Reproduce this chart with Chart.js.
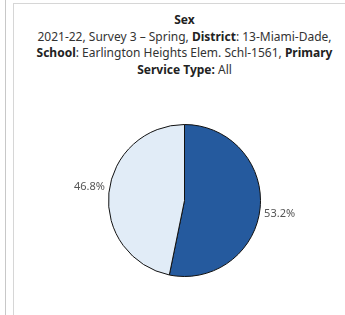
<!DOCTYPE html>
<html>
<head>
<meta charset="utf-8">
<script src="https://cdn.jsdelivr.net/npm/chart.js@4.4.1/dist/chart.umd.min.js"></script>
<style>
  html, body { margin: 0; padding: 0; background: #fff; }
  body { width: 345px; height: 315px; position: relative; overflow: hidden; font-family: "Noto Sans", sans-serif; }
  .vline1 { position: absolute; left: 5px; top: 0; width: 1px; height: 315px; background: #c8c8c8; }
  .vline2 { position: absolute; left: 13px; top: 3px; width: 1px; height: 312px; background: #d6d6d6; }
  .hline { position: absolute; left: 13px; top: 3px; width: 332px; height: 1px; background: #d6d6d6; }
  #title { position: absolute; left: 24px; width: 321px; top: 12px; text-align: center; font-size: 12px; line-height: 16.5px; color: #333; white-space: nowrap; }
  #title b { color: #222; }
  #wrap { position: absolute; left: 24px; top: 124px; width: 321px; height: 153px; }
</style>
</head>
<body>
<div class="vline1"></div>
<div class="vline2"></div>
<div class="hline"></div>
<div id="title"><b>Sex</b><br>2021-22, Survey 3 – Spring, <b>District</b>: 13-Miami-Dade,<br><b>School</b>: Earlington Heights Elem. Schl-1561, <b>Primary</b><br><b>Service Type:</b> All</div>
<div id="wrap"><canvas id="c"></canvas></div>
<script>
const categories = ["Male", "Female"];
const values = [53.2, 46.8];
const valueLabels = ["53.2%", "46.8%"];
const colors = ["#255a9e", "#e1ecf7"];

const labelPlugin = {
  id: 'sliceLabels',
  afterDatasetsDraw(chart) {
    const ctx = chart.ctx;
    const meta = chart.getDatasetMeta(0);
    ctx.save();
    ctx.font = '11px "Noto Sans", sans-serif';
    ctx.fillStyle = '#555';
    meta.data.forEach((arc, i) => {
      const mid = (arc.startAngle + arc.endAngle) / 2;
      const r = arc.outerRadius + 4;
      const x = arc.x + Math.cos(mid) * r;
      const y = arc.y + Math.sin(mid) * r;
      if (Math.cos(mid) >= 0) {
        ctx.textAlign = 'left';
        ctx.textBaseline = 'top';
      } else {
        ctx.textAlign = 'right';
        ctx.textBaseline = 'bottom';
      }
      ctx.fillText(valueLabels[i], x, y);
    });
    ctx.restore();
  }
};

new Chart(document.getElementById('c'), {
  type: 'pie',
  data: {
    labels: categories,
    datasets: [{
      data: values,
      backgroundColor: colors,
      borderColor: '#111',
      borderWidth: 1
    }]
  },
  options: {
    responsive: true,
    maintainAspectRatio: false,
    animation: false,
    layout: { padding: 0 },
    plugins: {
      legend: { display: false },
      tooltip: { enabled: false },
      title: { display: false }
    }
  },
  plugins: [labelPlugin]
});
</script>
</body>
</html>
